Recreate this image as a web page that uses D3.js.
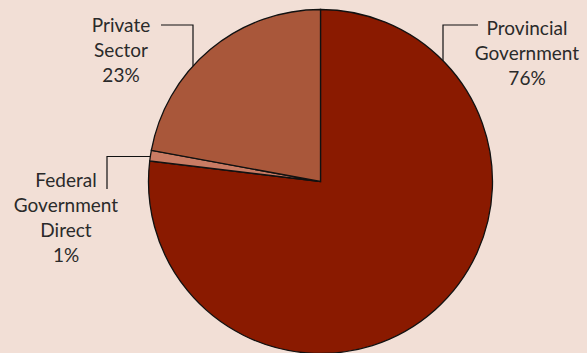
<!DOCTYPE html>
<html><head><meta charset="utf-8">
<script src="https://cdn.jsdelivr.net/npm/d3@7"></script>
<style>
html,body{margin:0;padding:0;background:#F2DFD6;}
svg{display:block;}
</style></head>
<body>
<svg id="chart" width="587" height="353"></svg>
<script>
const categories = ["Provincial Government", "Federal Government Direct", "Private Sector"];
const values = [76.9, 1.0, 22.1];
const percentLabels = ["76%", "1%", "23%"];
const labelLines = [["Provincial", "Government", "76%"], ["Federal", "Government", "Direct", "1%"], ["Private", "Sector", "23%"]];
const colors = ["#8A1A00", "#C97B63", "#A9573A"];

const W = 587, H = 353;
const cx = 320.5, cy = 181.5, R = 172;
const svg = d3.select("#chart");
svg.append("rect").attr("width", W).attr("height", H).attr("fill", "#F2DFD6");

const data = categories.map((c, i) => ({ name: c, value: values[i], i }));
const pie = d3.pie().value(d => d.value).sort(null).startAngle(0).endAngle(2 * Math.PI);
const arc = d3.arc().innerRadius(0).outerRadius(R);
const g = svg.append("g").attr("transform", `translate(${cx},${cy})`);
g.selectAll("path").data(pie(data)).join("path")
  .attr("d", arc)
  .attr("fill", d => colors[d.data.i])
  .attr("stroke", "#111")
  .attr("stroke-width", 1.3)
  .attr("stroke-linejoin", "miter");

function edgeY(x, top) {
  const dx = x - cx;
  const h = Math.sqrt(R * R - dx * dx);
  return top ? cy - h : cy + h;
}
function edgeX(y, left) {
  const dy = y - cy;
  const w = Math.sqrt(R * R - dy * dy);
  return left ? cx - w : cx + w;
}
const leaders = [
  [[478, 25], [443, 25], [443, edgeY(443, true)]],
  [[107, 189], [107, 156.5], [edgeX(156.5, true), 156.5]],
  [[161, 25], [193, 25], [193, edgeY(193, true)]]
];
const line = d3.line();
svg.append("g").selectAll("path").data(leaders).join("path")
  .attr("d", d => line(d))
  .attr("fill", "none")
  .attr("stroke", "#111")
  .attr("stroke-width", 1.2);

const labelPos = [[527, 35], [66, 187], [121, 32]];
const lh = 25;
const lg = svg.append("g")
  .attr("font-family", "Lato, 'Open Sans', sans-serif")
  .attr("font-size", 19)
  .attr("fill", "#2a2a2a")
  .attr("text-anchor", "middle");
labelLines.forEach((lines, i) => {
  const t = lg.append("text").attr("x", labelPos[i][0]).attr("y", labelPos[i][1]);
  lines.forEach((s, j) => {
    t.append("tspan").attr("x", labelPos[i][0]).attr("y", labelPos[i][1] + j * lh).text(s);
  });
});
</script>
</body></html>
